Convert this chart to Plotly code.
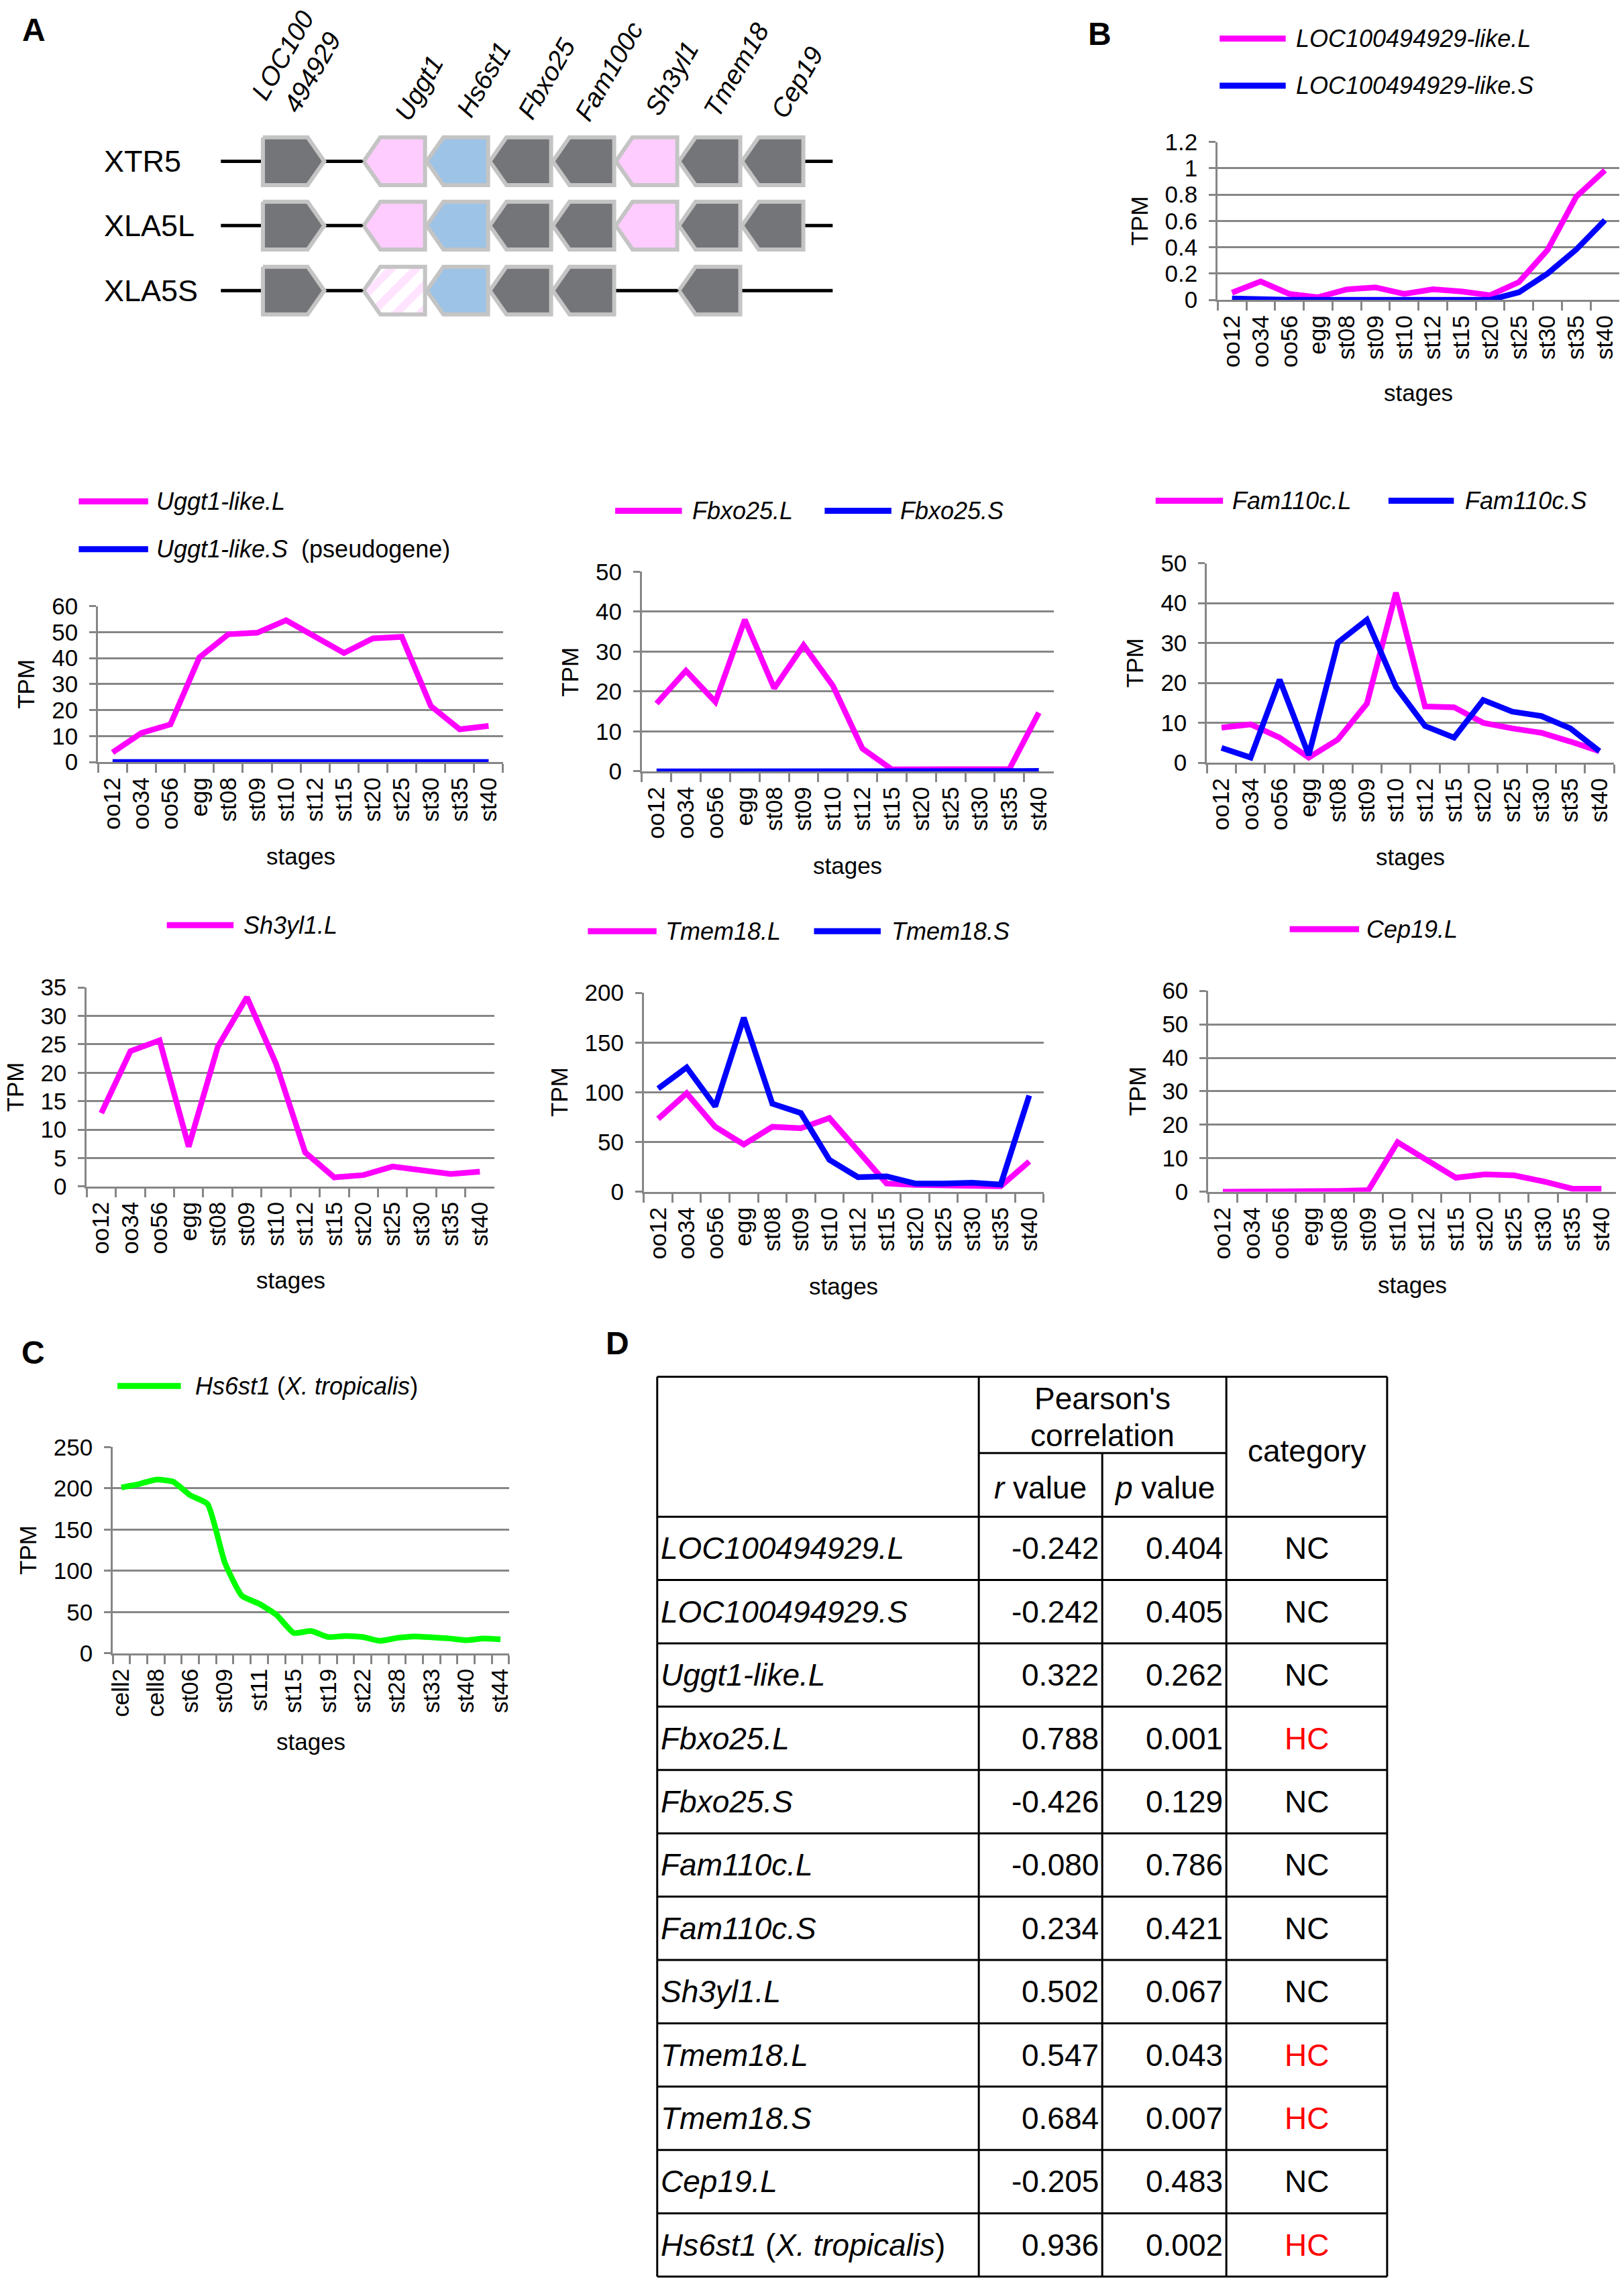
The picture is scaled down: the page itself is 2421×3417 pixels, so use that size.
import plotly.graph_objects as go

W, H = 2421, 3417
FONT = "Liberation Sans, Arial, sans-serif"
MAG, BLU, GRN = "#FF00FF", "#0000FF", "#00FF00"
GRID = "#868686"

# ---------------- data ----------------
stages = ["oo12", "oo34", "oo56", "egg", "st08", "st09", "st10", "st12",
          "st15", "st20", "st25", "st30", "st35", "st40"]

loc_L = [0.055, 0.14, 0.045, 0.02, 0.08, 0.095, 0.045, 0.08, 0.064, 0.035, 0.135, 0.38, 0.785, 0.985]
loc_S = [0.01, 0.003, 0.0, 0.0, 0.0, 0.0, 0.0, 0.0, 0.0, 0.0, 0.058, 0.2, 0.383, 0.606]
uggt_L = [3.7, 11.2, 14.5, 40.3, 49.2, 49.8, 54.6, 48.2, 42.0, 47.6, 48.2, 21.6, 12.6, 13.9]
uggt_S = [0, 0, 0, 0, 0, 0, 0, 0, 0, 0.1, 0.35, 0.1, 0, 0]
fbxo_L = [17.0, 25.2, 17.4, 38.0, 20.8, 31.6, 21.4, 5.7, 0.5, 0.5, 0.6, 0.4, 0.6, 14.7]
fbxo_S = [0, 0, 0, 0, 0, 0, 0, 0, 0.2, 0.2, 0.1, 0.1, 0.1, 0.1]
fam_L = [8.8, 9.6, 6.3, 1.3, 5.8, 14.8, 42.6, 14.1, 13.9, 10.0, 8.6, 7.5, 5.3, 2.9]
fam_S = [3.7, 1.3, 20.8, 1.9, 30.1, 35.8, 19.0, 9.2, 6.3, 15.7, 12.8, 11.7, 8.6, 2.9]
sh3_L = [12.9, 23.8, 25.7, 7.0, 24.6, 33.3, 21.6, 6.0, 1.6, 2.0, 3.5, 2.75, 2.2, 2.6]
tmem_L = [73.3, 99.0, 65.3, 47.6, 65.3, 63.9, 74.1, 41.0, 8.3, 6.9, 6.4, 5.5, 5.5, 30.4]
tmem_S = [103.7, 125.0, 85.8, 175.0, 88.5, 79.1, 32.1, 14.7, 15.5, 8.3, 8.3, 9.1, 7.2, 96.8]
cep_L = [0, 0, 0, 0, 0.25, 0.5, 14.8, 9.5, 4.2, 5.2, 4.9, 3.1, 0.9, 0.9]

trop_stages = ["cell2", "cell4", "cell8", "st05", "st06", "st08", "st09", "st10", "st11",
               "st12", "st15", "st17", "st19", "st20", "st22", "st25", "st28", "st31",
               "st33", "st36", "st40", "st42", "st44"]
trop_labels = ["cell2", "", "cell8", "", "st06", "", "st09", "", "st11", "", "st15", "",
               "st19", "", "st22", "", "st28", "", "st33", "", "st40", "", "st44"]
hs6st1 = [201, 205, 210.5, 208, 191.5, 181, 110, 69.6, 60, 46.6, 24.7, 27, 19.7, 21,
          19.7, 15, 18.6, 20.4, 19.4, 18, 15.8, 18, 16.9]

# table D
tbl_genes = ["<i>LOC100494929.L</i>", "<i>LOC100494929.S</i>", "<i>Uggt1-like.L</i>",
             "<i>Fbxo25.L</i>", "<i>Fbxo25.S</i>", "<i>Fam110c.L</i>", "<i>Fam110c.S</i>",
             "<i>Sh3yl1.L</i>", "<i>Tmem18.L</i>", "<i>Tmem18.S</i>", "<i>Cep19.L</i>",
             "<i>Hs6st1</i> (<i>X. tropicalis</i>)"]
tbl_r = [-0.242, -0.242, 0.322, 0.788, -0.426, -0.080, 0.234, 0.502, 0.547, 0.684, -0.205, 0.936]
tbl_p = [0.404, 0.405, 0.262, 0.001, 0.129, 0.786, 0.421, 0.067, 0.043, 0.007, 0.483, 0.002]
tbl_cat = ["NC", "NC", "NC", "HC", "NC", "NC", "NC", "NC", "HC", "HC", "NC", "HC"]

# panel A
a_rows = ["XTR5", "XLA5L", "XLA5S"]
a_genes = ["LOC100<br>494929", "Uggt1", "Hs6st1", "Fbxo25", "Fam100c", "Sh3yl1", "Tmem18", "Cep19"]
a_dir = [1, -1, -1, -1, -1, -1, -1, -1]
a_color = ["#737578", "#FFCCFF", "#9DC3E6", "#737578", "#737578", "#FFCCFF", "#737578", "#737578"]
a_present = [[1, 1, 1, 1, 1, 1, 1, 1],
             [1, 1, 1, 1, 1, 1, 1, 1],
             [1, 2, 1, 1, 1, 0, 1, 0]]   # 2 = pseudogene (hatched)

# ---------------- helpers ----------------
def px(x):
    return x / W


def py(y):
    return 1 - y / H


fig = go.Figure()
layout = {}
annotations = []
shapes = []


def ann(x, y, text, size=34, color="black", xanchor="center", yanchor="middle", angle=0):
    annotations.append(dict(x=px(x), y=py(y), xref="paper", yref="paper", text=text,
                            showarrow=False, xanchor=xanchor, yanchor=yanchor,
                            textangle=angle, font=dict(family=FONT, size=size, color=color)))


def hline(x0, x1, y, color="black", width=3):
    shapes.append(dict(type="line", xref="paper", yref="paper", x0=px(x0), x1=px(x1),
                       y0=py(y), y1=py(y), line=dict(color=color, width=width)))


def vline(x, y0, y1, color="black", width=3):
    shapes.append(dict(type="line", xref="paper", yref="paper", x0=px(x), x1=px(x),
                       y0=py(y0), y1=py(y1), line=dict(color=color, width=width)))


# ---------------- charts ----------------
charts = [
    dict(box=(1817, 194, 2419, 432), ymax=1.2, dtick=0.2, cats=stages, labels=stages,
         series=[("<i>LOC100494929-like.L</i>", loc_L, MAG), ("<i>LOC100494929-like.S</i>", loc_S, BLU)],
         leg=[(1820, 1919, 38, 1932), (1820, 1919, 109, 1932)], tpm=1700, stg=572),
    dict(box=(139, 894, 746, 1129), ymax=60, dtick=10, cats=stages, labels=stages,
         series=[("<i>Uggt1-like.L</i>", uggt_L, MAG), ("<i>Uggt1-like.S</i>  (pseudogene)", uggt_S, BLU)],
         leg=[(110, 214, 736, 224), (110, 214, 808, 224)], tpm=31, stg=1271),
    dict(box=(954, 842, 1571, 1143), ymax=50, dtick=10, cats=stages, labels=stages,
         series=[("<i>Fbxo25.L</i>", fbxo_L, MAG), ("<i>Fbxo25.S</i>", fbxo_S, BLU)],
         leg=[(914, 1014, 750, 1028), (1228, 1328, 750, 1339)], tpm=846, stg=1285),
    dict(box=(1801, 829, 2411, 1130), ymax=50, dtick=10, cats=stages, labels=stages,
         series=[("<i>Fam110c.L</i>", fam_L, MAG), ("<i>Fam110c.S</i>", fam_S, BLU)],
         leg=[(1724, 1825, 735, 1837), (2073, 2171, 735, 2186)], tpm=1692, stg=1272),
    dict(box=(122, 1469, 733, 1769), ymax=35, dtick=5, cats=stages, labels=stages,
         series=[("<i>Sh3yl1.L</i>", sh3_L, MAG)],
         leg=[(242, 342, 1375, 355)], tpm=15, stg=1910),
    dict(box=(957, 1477, 1556, 1777), ymax=200, dtick=50, cats=stages, labels=stages,
         series=[("<i>Tmem18.L</i>", tmem_L, MAG), ("<i>Tmem18.S</i>", tmem_S, BLU)],
         leg=[(873, 976, 1384, 987), (1212, 1312, 1384, 1326)], tpm=830, stg=1919),
    dict(box=(1803, 1474, 2414, 1777), ymax=60, dtick=10, cats=stages, labels=stages,
         series=[("<i>Cep19.L</i>", cep_L, MAG)],
         leg=[(1925, 2029, 1381, 2038)], tpm=1697, stg=1917),
    dict(box=(161, 2162, 755, 2473), ymax=250, dtick=50, cats=trop_stages, labels=trop_labels,
         series=[("<i>Hs6st1</i> (<i>X. tropicalis</i>)", hs6st1, GRN)],
         leg=[(168, 263, 2070, 283)], tpm=33, stg=2606, smooth=True),
]

TICKFONT = dict(family=FONT, size=35, color="black")

for i, ch in enumerate(charts, start=1):
    x0, y0, x1, y1 = ch["box"]
    sfx = "" if i == 1 else str(i)
    for (name, vals, color), (lx0, lx1, ly, tx) in zip(ch["series"], ch["leg"]):
        line = dict(color=color, width=8.5)
        if ch.get("smooth"):
            line.update(shape="spline", smoothing=0.5)
        fig.add_trace(go.Scatter(x=ch["cats"], y=vals, mode="lines", line=line, name=name,
                                 xaxis="x" + sfx, yaxis="y" + sfx, showlegend=False,
                                 hoverinfo="skip"))
        hline(lx0, lx1, ly, color=color, width=9)
        ann(tx, ly, name, size=36, xanchor="left")
    n = len(ch["cats"])
    layout["xaxis" + sfx] = dict(
        domain=[px(x0), px(x1)], anchor="y" + sfx, type="category",
        categoryorder="array", categoryarray=ch["cats"], range=[-0.5, n - 0.5],
        tickmode="array", tickvals=ch["cats"], ticktext=ch["labels"], tickangle=-90,
        ticks="outside", ticklen=13, tickwidth=3, tickcolor=GRID, tickson="boundaries",
        showline=True, linecolor=GRID, linewidth=3, showgrid=False, zeroline=False,
        tickfont=TICKFONT, ticklabelstandoff=6, fixedrange=True)
    layout["yaxis" + sfx] = dict(
        domain=[py(y1), py(y0)], anchor="x" + sfx, range=[0, ch["ymax"]], tick0=0,
        dtick=ch["dtick"], showgrid=True, gridcolor=GRID, gridwidth=3, zeroline=False,
        showline=True, linecolor=GRID, linewidth=3, ticks="outside", ticklen=10,
        tickwidth=3, tickcolor=GRID, tickfont=TICKFONT, ticklabelstandoff=10,
        fixedrange=True)
    ann(ch["tpm"], (y0 + y1) / 2, "TPM", size=35, angle=-90)
    ann((x0 + x1) / 2, ch["stg"], "stages", size=35)

# ---------------- panel A: gene diagram on a pixel overlay axis ----------------
OV = "9"
layout["xaxis" + OV] = dict(domain=[0, 1], range=[0, W], visible=False, anchor="y" + OV, fixedrange=True)
layout["yaxis" + OV] = dict(domain=[0, 1], range=[H, 0], visible=False, anchor="x" + OV, fixedrange=True)

row_y = [223, 320, 418]
box_left = [386] + [537 + 94.5 * k for k in range(7)]
box_w, box_h2, tip = 92, 36, 25
line_x0, line_x1 = 323, 1240

for r, (rname, yc) in enumerate(zip(a_rows, row_y)):
    shapes.append(dict(type="line", xref="x" + OV, yref="y" + OV, x0=line_x0, x1=line_x1,
                       y0=yc, y1=yc, line=dict(color="black", width=5), layer="below"))
    ann(146, yc, rname, size=45, xanchor="left")
    for g in range(len(a_genes)):
        state = a_present[r][g]
        if state == 0:
            continue
        bx0 = box_left[g]
        bx1 = bx0 + box_w
        yt, yb = yc - box_h2, yc + box_h2
        if a_dir[g] > 0:
            xs = [bx0, bx1 - tip, bx1, bx1 - tip, bx0, bx0]
            ys = [yt, yt, yc, yb, yb, yt]
        else:
            xs = [bx0, bx0 + tip, bx1, bx1, bx0 + tip, bx0]
            ys = [yc, yt, yt, yb, yb, yc]
        kw = dict(x=xs, y=ys, mode="lines", fill="toself", xaxis="x" + OV, yaxis="y" + OV,
                  line=dict(color="#C4C4C4", width=6), showlegend=False, hoverinfo="skip")
        if state == 2:
            kw["fillcolor"] = "white"
            kw["fillpattern"] = dict(shape="/", fgcolor="#FFC8FF", bgcolor="white",
                                     size=26, solidity=0.45)
        else:
            kw["fillcolor"] = a_color[g]
        fig.add_trace(go.Scatter(**kw))

a_label_center = [(438, 76), (620, 113), (717, 100), (811, 99), (904, 87), (999, 98), (1095, 85), (1187, 104)]
for lbl, (cx, cy) in zip(a_genes, a_label_center):
    ann(cx, cy, "<i>" + lbl + "</i>", size=39, angle=-60)

# panel letters
for letter, (lx, ly) in zip(["A", "B", "C", "D"], [(43, 25), (1640, 31), (42, 2020), (917, 2005)]):
    ann(lx, ly, "<b>" + letter + "</b>", size=48)

# ---------------- table D ----------------
cx = [977, 1459, 1644, 1830, 2071]
t_top, t_sub, t_head = 2056, 2171, 2267
row_h = 95.5
t_bot = t_head + row_h * len(tbl_genes)
hline(cx[0], cx[4], t_top)
hline(cx[1], cx[3], t_sub)
for k in range(len(tbl_genes) + 1):
    hline(cx[0], cx[4], t_head + row_h * k)
for x in (cx[0], cx[1], cx[3], cx[4]):
    vline(x, t_top, t_bot)
vline(cx[2], t_sub, t_bot)

TF = 46
ann((cx[1] + cx[3]) / 2, 2089, "Pearson's", size=TF)
ann((cx[1] + cx[3]) / 2, 2144, "correlation", size=TF)
ann((cx[1] + cx[2]) / 2, 2223, "<i>r</i> value", size=TF)
ann((cx[2] + cx[3]) / 2, 2223, "<i>p</i> value", size=TF)
ann((cx[3] + cx[4]) / 2, 2168, "category", size=TF)
for k, (g, r, p, c) in enumerate(zip(tbl_genes, tbl_r, tbl_p, tbl_cat)):
    yc = t_head + row_h * (k + 0.5)
    ann(cx[0] + 3, yc, g, size=TF, xanchor="left")
    ann(cx[2] - 3, yc, "%.3f" % r, size=TF, xanchor="right")
    ann(cx[3] - 3, yc, "%.3f" % p, size=TF, xanchor="right")
    ann((cx[3] + cx[4]) / 2, yc, c, size=TF, color="#FF0000" if c == "HC" else "black")

fig.update_layout(width=W, height=H, margin=dict(l=0, r=0, t=0, b=0, pad=0),
                  paper_bgcolor="white", plot_bgcolor="rgba(0,0,0,0)",
                  font=dict(family=FONT, color="black"), showlegend=False,
                  annotations=annotations, shapes=shapes, **layout)

post = (
    "document.documentElement.style.margin='0';"
    "document.body.style.margin='0';"
    "document.documentElement.style.overflow='hidden';"
    "document.body.style.overflow='hidden';"
)
fig.write_html("out.html", config={"displayModeBar": False}, post_script=post)
